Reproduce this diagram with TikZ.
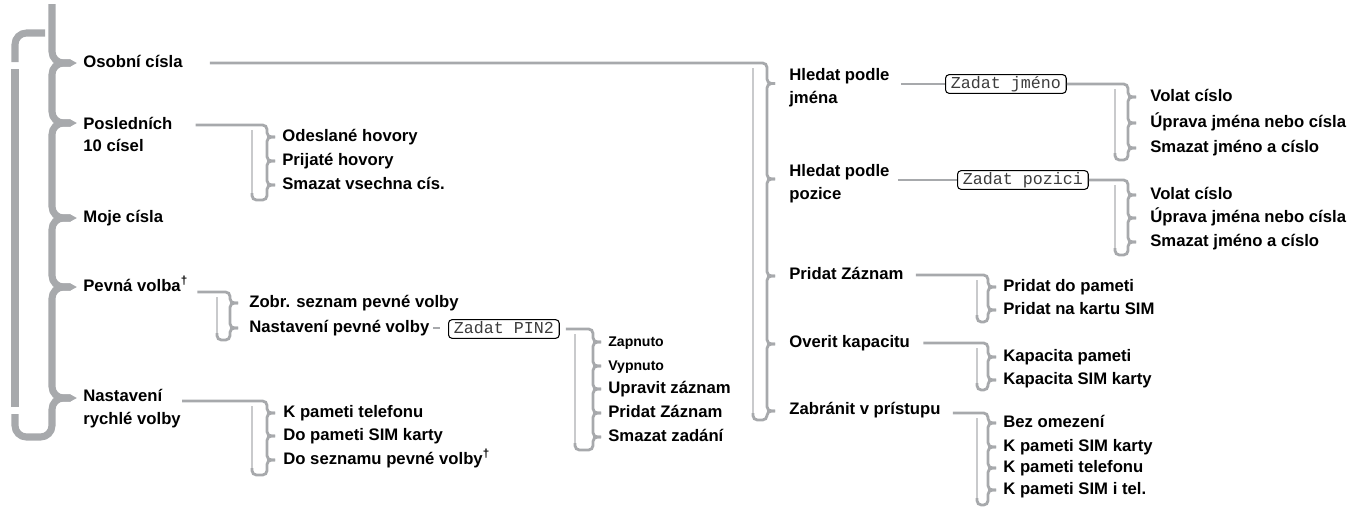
\documentclass[tikz,border=0pt]{standalone}
\usepackage{fontspec}
\setmainfont{Liberation Sans}
\newfontfamily\lcdfont{Liberation Mono}
\usepackage{xcolor}
\usepackage{tikz}
\usetikzlibrary{arrows.meta,positioning,calc}
\definecolor{bargray}{HTML}{A7A9AC}
\definecolor{lightbar}{HTML}{C9CACC}
\definecolor{lcdtext}{HTML}{3C3C3C}

\tikzset{
  item/.style={anchor=west, inner sep=0pt, text height=7pt, text depth=1.8pt, font=\fontsize{9.5pt}{13pt}\selectfont\bfseries},
  twoline/.style={anchor=west, inner sep=0pt, align=left, font=\fontsize{9.5pt}{13pt}\selectfont\bfseries},
  smallitem/.style={item, font=\fontsize{8pt}{10pt}\selectfont\bfseries},
  lcd/.style={draw, anchor=west, rounded corners=2pt, line width=0.6pt, inner xsep=3pt, inner ysep=1.3pt, text height=6.5pt, text depth=1.5pt, text=lcdtext, font=\lcdfont\fontsize{9.5pt}{10pt}\selectfont},
  mainbar/.style={bargray, line width=4pt, rounded corners=6.5pt},
  maintip/.style={-{Triangle[length=4pt,width=4pt]}},
  subbar/.style={bargray, line width=1.6pt, rounded corners=2.5pt},
  leftbar/.style={lightbar, line width=1.1pt},
  feed/.style={bargray, line width=1.6pt}
}

% #1 start of the feed line, #2 right bar x, #3 left bar x, #4 children node/dy, #5 drop below last child
\newcommand{\menubrace}[5]{%
  \coordinate (t0) at (#1);
  \coordinate (rb) at (#2,0);
  \coordinate (lb) at (#3,0);
  \foreach \c/\dy [count=\i] in {#4}{%
    \coordinate (t\i) at ($(rb |- \c.west)+(8,\dy)$);
    \xdef\nlast{\i}}
  \draw[leftbar] ($(lb |- t0)+(0,5)$) -- ($(lb |- t\nlast)+(0,#5-4)$);
  \foreach \i [remember=\i as \j (initially 0)] in {1,...,\nlast}
    \draw[subbar] (t\j) -- (rb |- t\j) -- (rb |- t\i) -- (t\i);
  \draw[subbar] (t\nlast) -- (rb |- t\nlast) -- ($(rb |- t\nlast)+(0,#5)$) -- ($(lb |- t\nlast)+(0,#5)$) -- ($(lb |- t\nlast)+(0,#5-7)$);
}

\begin{document}
\begin{tikzpicture}[x=0.02cm, y=-0.02cm]
\useasboundingbox (0,0) rectangle (1363,511);

\node[item] (osob) at (83,63) {Osobní císla};
\node[twoline] (posl) at (83,134.5) {Posledních\\10 císel};
\node[item] (moje) at (83,218) {Moje císla};
\node[item] (pevna) at (83,287) {Pevná volba\textsuperscript{†}};
\node[twoline] (rych) at (83,409) {Nastavení\\rychlé volby};

\coordinate (mr) at (52,0);
\coordinate (mtop) at (52,4);
\foreach \c/\dy [count=\i] in {osob/0,posl/-11.5,moje/0,pevna/0,rych/-11}
  \coordinate (m\i) at ($(mr |- \c.west)+(25,\dy)$);
\draw[mainbar, maintip] (mtop) -- (mr |- m1) -- (m1);
\foreach \i [remember=\i as \j (initially 1)] in {2,...,5}
  \draw[mainbar, maintip] ($(m\j)+(-7,0)$) -- (mr |- m\j) -- (mr |- m\i) -- (m\i);
\draw[mainbar] ($(m5)+(-7,0)$) -- (mr |- m5) -- (52,437) -- (15,437) -- (15,414);
\draw[mainbar] (15,407) -- (15,69);
\draw[mainbar] (45,33) -- (15,33) -- (15,62);

\node[item] (odes) at (282,137) {Odeslané hovory};
\node[item] (prij) at (282,161) {Prijaté hovory};
\node[item] (smvs) at (282,185) {Smazat vsechna cís.};
\menubrace{$(posl.east)+(23,-9.5)$}{267}{252}{odes/0,prij/0,smvs/0}{15}

\node[item] (zobr) at (249,303) {Zobr. seznam pevné volby};
\node[item] (npev) at (249,328) {Nastavení pevné volby};
\menubrace{$(pevna.east)+(9,5)$}{230}{217}{zobr/0,npev/0}{12}

\node[lcd] (pin) at (448,329) {Zadat PIN2};
\draw[feed, shorten <=2pt, shorten >=4.5pt] (npev.east) -- (npev.east -| pin.west);
\node[smallitem] (zap) at (608,342) {Zapnuto};
\node[smallitem] (vyp) at (608,366) {Vypnuto};
\node[item] (upr) at (608,389) {Upravit záznam};
\node[item] (prza) at (608,413) {Pridat Záznam};
\node[item] (smza) at (608,437) {Smazat zadání};
\menubrace{$(pin.east)+(6,0)$}{593}{575}{zap/0,vyp/0,upr/0,prza/0,smza/0}{13}

\node[item] (kpt) at (283,413) {K pameti telefonu};
\node[item] (dops) at (283,436) {Do pameti SIM karty};
\node[item] (dosz) at (283,460) {Do seznamu pevné volby\textsuperscript{†}};
\menubrace{$(rych.east)+(1,-8)$}{267}{252}{kpt/0,dops/0,dosz/0}{15}

\node[twoline] (hj) at (789,87.5) {Hledat podle\\jména};
\node[twoline] (hp) at (789,184) {Hledat podle\\pozice};
\node[item] (pz) at (789,275) {Pridat Záznam};
\node[item] (ok) at (789,343) {Overit kapacitu};
\node[item] (zab) at (789,410) {Zabránit v prístupu};
\menubrace{$(osob.east)+(27,0)$}{767}{753}{hj/-4,hp/-5,pz/1,ok/1,zab/1}{9}

\node[lcd] (jmeno) at (945,84) {Zadat jméno};
\draw[feed] ($(hj.east |- jmeno.west)+(11,0)$) -- (jmeno.west);
\node[item] (vj) at (1150,97) {Volat císlo};
\node[item] (uj) at (1150,123) {Úprava jména nebo císla};
\node[item] (sj) at (1150,148) {Smazat jméno a císlo};
\menubrace{jmeno.east}{1128}{1115}{vj/0,uj/0,sj/0}{12}

\node[lcd] (pozici) at (957,180) {Zadat pozici};
\draw[feed] ($(hp.east |- pozici.west)+(8,0)$) -- (pozici.west);
\node[item] (vp) at (1150,195) {Volat císlo};
\node[item] (up) at (1150,218) {Úprava jména nebo císla};
\node[item] (sp) at (1150,242) {Smazat jméno a císlo};
\menubrace{pozici.east}{1128}{1115}{vp/0,up/0,sp/0}{13}

\node[item] (pdp) at (1003,287) {Pridat do pameti};
\node[item] (pns) at (1003,310) {Pridat na kartu SIM};
\menubrace{$(pz.east)+(12,0)$}{988}{977}{pdp/0,pns/0}{12}

\node[item] (kp) at (1003,357) {Kapacita pameti};
\node[item] (ks) at (1003,380) {Kapacita SIM karty};
\menubrace{$(ok.east)+(13,0)$}{988}{977}{kp/0,ks/0}{10}

\node[item] (bez) at (1003,423) {Bez omezení};
\node[item] (kps) at (1003,447) {K pameti SIM karty};
\node[item] (kpl) at (1003,468) {K pameti telefonu};
\node[item] (kpi) at (1003,490) {K pameti SIM i tel.};
\menubrace{$(zab.east)+(12,3)$}{988}{977}{bez/0,kps/0,kpl/0,kpi/0}{15}
\end{tikzpicture}
\end{document}
